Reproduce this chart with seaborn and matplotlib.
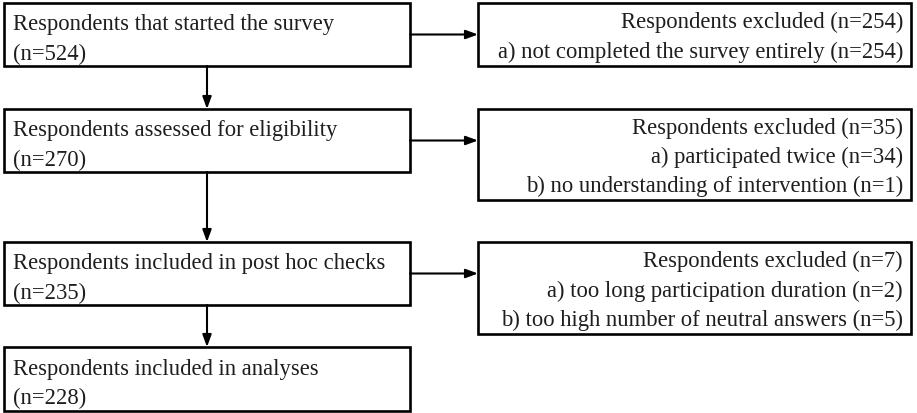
import matplotlib
matplotlib.use("Agg")
import matplotlib.pyplot as plt
import seaborn as sns
from matplotlib.patches import Rectangle

sns.set_theme(style="white")
plt.rcParams['font.family'] = ['Liberation Serif', 'DejaVu Serif']

# ---- data (flow stages) ----
main_titles = [
    "Respondents that started the survey",
    "Respondents assessed for eligibility",
    "Respondents included in post hoc checks",
    "Respondents included in analyses",
]
main_counts = [524, 270, 235, 228]

excl_counts = [254, 35, 7]
excl_reasons = [
    ["not completed the survey entirely"],
    ["participated twice", "no understanding of intervention"],
    ["too long participation duration", "too high number of neutral answers"],
]
excl_reason_counts = [[254], [34, 1], [2, 5]]

# ---- layout (pixel space) ----
W, H = 917, 414
left_x = (4, 410)
right_x = (478, 911)
main_y = [(4, 67), (110, 173), (243, 306), (348, 412)]
excl_y = [(4, 67), (110, 201), (243, 335)]
arrow_x = 207

fig = plt.figure(figsize=(W / 100, H / 100), dpi=100)
ax = fig.add_axes([0, 0, 1, 1])
ax.set_xlim(0, W)
ax.set_ylim(H, 0)
ax.axis("off")

fs = 16.3
txt_col = "#1e1e1e"
lw_box = 1.9

for i, (title, n) in enumerate(zip(main_titles, main_counts)):
    y0, y1 = main_y[i]
    ax.add_patch(Rectangle((left_x[0], y0), left_x[1] - left_x[0], y1 - y0,
                           fill=False, ec="black", lw=lw_box))
    ax.text(left_x[0] + 9, (y0 + y1) / 2 + 4, f"{title}\n(n={n})",
            ha="left", va="center", fontsize=fs, color=txt_col, linespacing=1.5)

letters = "abcdefg"
for i, n in enumerate(excl_counts):
    y0, y1 = excl_y[i]
    ax.add_patch(Rectangle((right_x[0], y0), right_x[1] - right_x[0], y1 - y0,
                           fill=False, ec="black", lw=lw_box))
    lines = [f"Respondents excluded (n={n})"]
    for j, (r, c) in enumerate(zip(excl_reasons[i], excl_reason_counts[i])):
        lines.append(f"{letters[j]}) {r} (n={c})")
    ax.text(right_x[1] - 8, (y0 + y1) / 2 + 2, "\n".join(lines),
            ha="right", va="center", fontsize=fs, color=txt_col,
            linespacing=1.5, multialignment="right")
    # horizontal arrow from main box to exclusion box
    my0, my1 = main_y[i]
    ay = (my0 + my1) / 2
    ax.annotate("", xy=(right_x[0], ay), xytext=(left_x[1], ay),
                arrowprops=dict(arrowstyle="-|>,head_length=0.6,head_width=0.22",
                                lw=1.5, color="black", shrinkA=0, shrinkB=0))

# vertical arrows between main boxes
for i in range(len(main_y) - 1):
    ax.annotate("", xy=(arrow_x, main_y[i + 1][0]), xytext=(arrow_x, main_y[i][1]),
                arrowprops=dict(arrowstyle="-|>,head_length=0.6,head_width=0.22",
                                lw=1.5, color="black", shrinkA=0, shrinkB=0))

fig.savefig("out.png", dpi=100, facecolor="white")
